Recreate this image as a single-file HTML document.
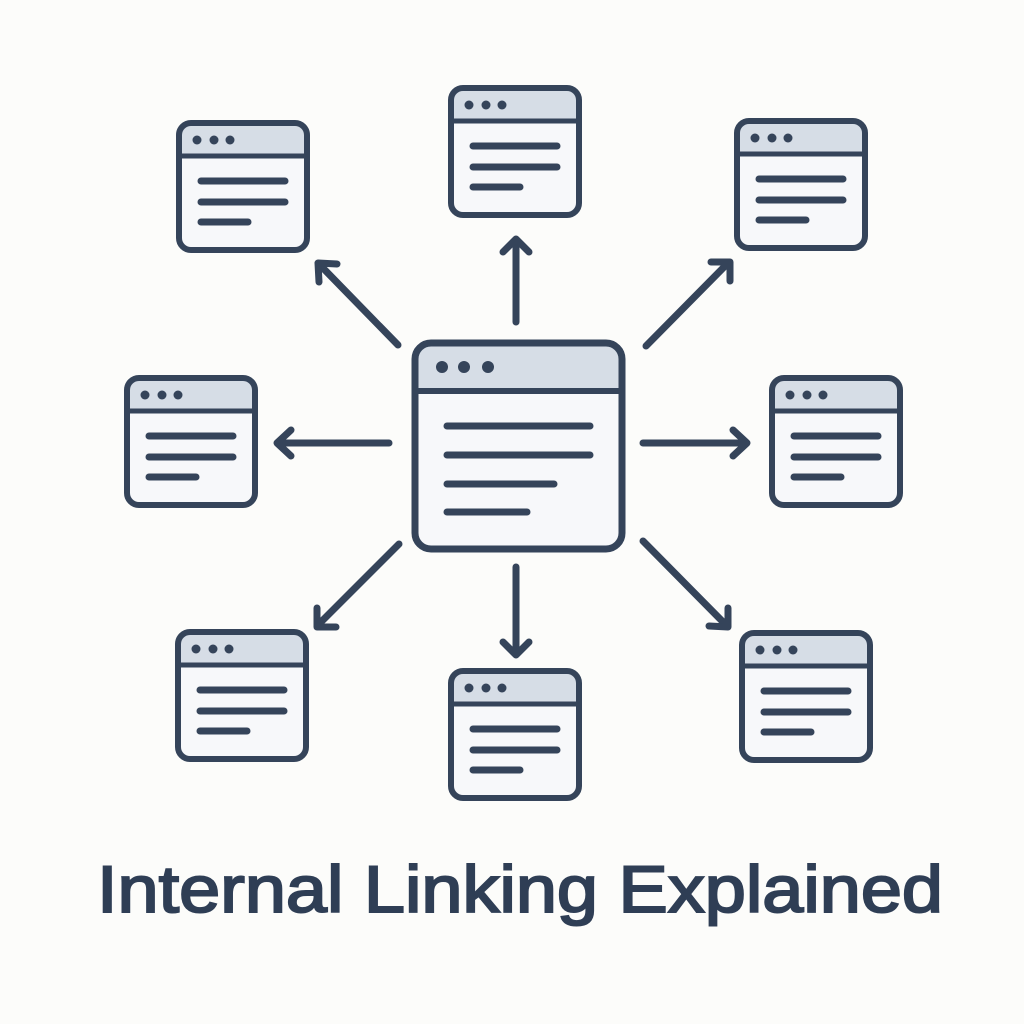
<!DOCTYPE html>
<html><head><meta charset="utf-8"><style>
html,body{margin:0;padding:0;background:#fcfcfa;}
svg{display:block}
</style></head><body>
<svg width="1024" height="1024" viewBox="0 0 1024 1024" xmlns="http://www.w3.org/2000/svg">
<defs>
<g id="w">
<rect x="3" y="3" width="128" height="127" rx="12" fill="#f7f8fa"/>
<path d="M3 36 V15 a12 12 0 0 1 12 -12 H119 a12 12 0 0 1 12 12 V36 Z" fill="#d6dde6"/>
<rect x="3" y="3" width="128" height="127" rx="12" fill="none" stroke="#35445a" stroke-width="6"/>
<line x1="3" y1="36" x2="131" y2="36" stroke="#35445a" stroke-width="5"/>
<circle cx="21" cy="20" r="4.5" fill="#35445a"/><circle cx="38" cy="20" r="4.5" fill="#35445a"/><circle cx="54" cy="20" r="4.5" fill="#35445a"/>
<g stroke="#35445a" stroke-width="7" stroke-linecap="round">
<line x1="25" y1="61" x2="109" y2="61"/><line x1="25" y1="82" x2="109" y2="82"/><line x1="25" y1="102" x2="72" y2="102"/>
</g>
</g>
</defs>
<use href="#w" x="448" y="85"/>
<use href="#w" x="176" y="120"/>
<use href="#w" x="734" y="118"/>
<use href="#w" x="124" y="375"/>
<use href="#w" x="769" y="375"/>
<use href="#w" x="175" y="629"/>
<use href="#w" x="448" y="668"/>
<use href="#w" x="739" y="630"/>
<rect x="415" y="343" width="207" height="206" rx="16" fill="#f7f8fa"/>
<path d="M415 391 V359 a16 16 0 0 1 16 -16 H606 a16 16 0 0 1 16 16 V391 Z" fill="#d6dde6"/>
<rect x="415" y="343" width="207" height="206" rx="16" fill="none" stroke="#35445a" stroke-width="7"/>
<line x1="415" y1="391" x2="622" y2="391" stroke="#35445a" stroke-width="6"/>
<circle cx="442" cy="367" r="6" fill="#35445a"/><circle cx="464" cy="367" r="6" fill="#35445a"/><circle cx="488" cy="367" r="6" fill="#35445a"/>
<g stroke="#35445a" stroke-width="7" stroke-linecap="round" fill="none" stroke-linejoin="round">
<line x1="447" y1="426" x2="590" y2="426"/><line x1="447" y1="455" x2="590" y2="455"/><line x1="447" y1="484" x2="554" y2="484"/><line x1="447" y1="512" x2="527" y2="512"/>
<line x1="516" y1="322" x2="516" y2="240"/><polyline points="503,252 516,239 529,252"/>
<line x1="398" y1="345" x2="320" y2="265"/><polyline points="319,282 318,263 337,264"/>
<line x1="646" y1="346" x2="728" y2="263"/><polyline points="711,262 730,262 730,281"/>
<line x1="389" y1="443" x2="278" y2="443"/><polyline points="291,430 277,443 291,456"/>
<line x1="643" y1="443" x2="746" y2="443"/><polyline points="733,430 747,443 733,456"/>
<line x1="399" y1="544" x2="318" y2="625"/><polyline points="317,608 317,627 336,627"/>
<line x1="516" y1="567" x2="516" y2="654"/><polyline points="503,642 516,655 529,642"/>
<line x1="643" y1="541" x2="726" y2="625"/><polyline points="709,626 728,627 728,608"/>
</g>
<text x="520" y="912" text-anchor="middle" font-family="Liberation Sans, sans-serif" font-size="66" font-weight="normal" fill="#2f3e55" stroke="#2f3e55" stroke-width="2" textLength="846" lengthAdjust="spacingAndGlyphs">Internal Linking Explained</text>
</svg>
</body></html>
